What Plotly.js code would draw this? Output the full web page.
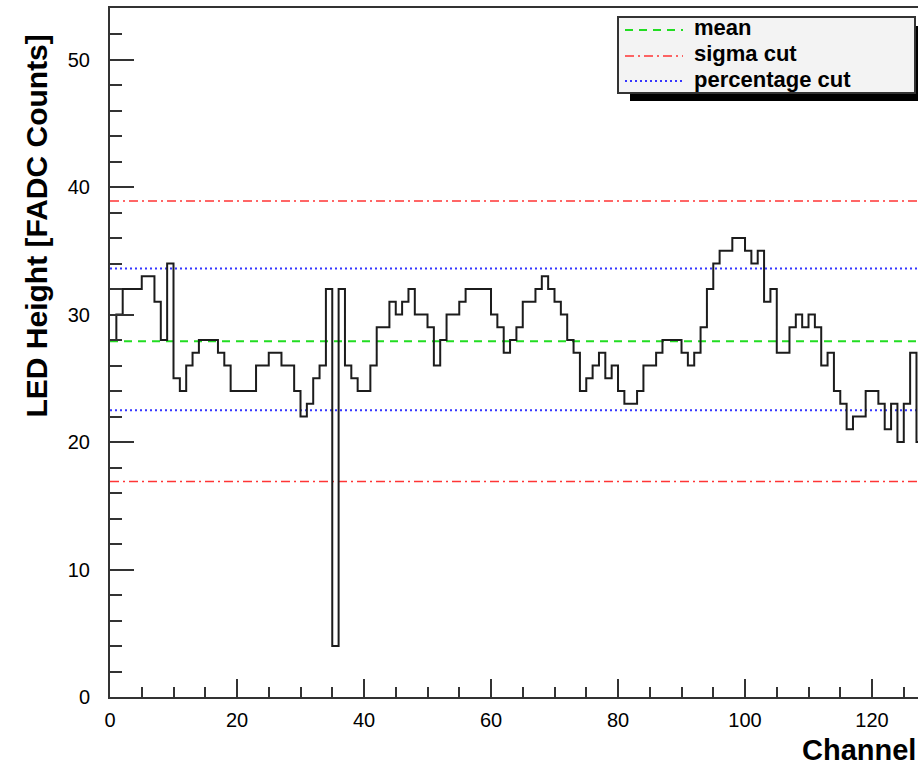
<!DOCTYPE html>
<html>
<head>
<meta charset="utf-8">
<script src="https://cdn.plot.ly/plotly-3.0.1.min.js"></script>
<style>
  html, body { margin: 0; padding: 0; background: #ffffff; }
  #chart { width: 918px; height: 765px; }
</style>
</head>
<body>
<div id="chart"></div>
<script>
// ---- data ----
const channelValues = [
  28, 30, 32, 32, 32, 33, 33, 31, 28, 34,
  25, 24, 26, 27, 28, 28, 28, 27, 26, 24,
  24, 24, 24, 26, 26, 27, 27, 26, 26, 24,
  22, 23, 25, 26, 32, 4, 32, 26, 25, 24,
  24, 26, 29, 29, 31, 30, 31, 32, 30, 30,
  29, 26, 28, 30, 30, 31, 32, 32, 32, 32,
  30, 29, 27, 28, 29, 31, 31, 32, 33, 32,
  31, 30, 28, 27, 24, 25, 26, 27, 25, 26,
  24, 23, 23, 24, 26, 26, 27, 28, 28, 28,
  27, 26, 27, 29, 32, 34, 35, 35, 36, 36,
  35, 34, 35, 31, 32, 27, 27, 29, 30, 29,
  30, 29, 26, 27, 24, 23, 21, 22, 22, 24,
  24, 23, 21, 23, 20, 23, 27, 20
];
const meanLevel = 27.9;
const sigmaCut = [16.9, 38.9];
const percentageCut = [22.5, 33.6];
const seriesNames = ["mean", "sigma cut", "percentage cut"];
const xTitle = "Channel";
const yTitle = "LED Height [FADC Counts]";
const xRange = [0, 127.24];
const yRange = [0, 54.04];

// ---- styles ----
const font = "Liberation Sans, Arial, Helvetica, sans-serif";
const seriesStyles = [
  { color: "#22dd22", width: 2, dash: "8px,6px" },
  { color: "#ff3535", width: 1.5, dash: "9px,4px,2px,4px" },
  { color: "#3535ff", width: 2, dash: "2px,3px" }
];

// ---- build traces ----
const histX = channelValues.map((v, i) => i).concat([channelValues.length]);
const histY = channelValues.concat([channelValues[channelValues.length - 1]]);
const xMax = channelValues.length;

const levelSets = [
  [meanLevel],
  [sigmaCut[1], sigmaCut[0]],
  [percentageCut[1], percentageCut[0]]
];

const traces = levelSets.map((levels, k) => {
  const x = [], y = [];
  levels.forEach((lv, j) => {
    if (j > 0) { x.push(null); y.push(null); }
    x.push(0, xMax); y.push(lv, lv);
  });
  return {
    type: "scatter", mode: "lines", name: seriesNames[k],
    x: x, y: y, line: seriesStyles[k], showlegend: false, hoverinfo: "skip"
  };
});
traces.push({
  type: "scatter", mode: "lines", name: "LED height",
  x: histX, y: histY,
  line: { color: "#1c1c1c", width: 2, shape: "hv" },
  showlegend: false
});

// ---- legend box (drawn by hand, ROOT style with shadow) ----
const px = v => (v - 110) / 808;   // pixel -> paper x
const py = v => (697 - v) / 689;   // pixel -> paper y
const legendRowsY = [30, 56, 81];
const legendShapes = [
  { type: "rect", xref: "paper", yref: "paper", layer: "above",
    x0: px(630), x1: 1.02, y0: py(101), y1: py(26),
    fillcolor: "#000000", line: { width: 0 } },
  { type: "rect", xref: "paper", yref: "paper", layer: "above",
    x0: px(618), x1: px(915), y0: py(93), y1: py(17),
    fillcolor: "#f3f3f3", line: { color: "#333333", width: 2 } }
];
seriesNames.forEach((n, k) => {
  legendShapes.push({
    type: "line", xref: "paper", yref: "paper", layer: "above",
    x0: px(625), x1: px(683), y0: py(legendRowsY[k]), y1: py(legendRowsY[k]),
    line: seriesStyles[k]
  });
});
const legendAnnotations = seriesNames.map((n, k) => ({
  text: "<b>" + n + "</b>", showarrow: false,
  xref: "paper", yref: "paper", x: px(692), y: py(legendRowsY[k] - 2),
  xanchor: "left", yanchor: "middle",
  font: { family: font, size: 22, color: "#000000" }
}));

const layout = {
  width: 918, height: 765,
  margin: { l: 110, r: 0, t: 8, b: 68 },
  paper_bgcolor: "#ffffff", plot_bgcolor: "#ffffff",
  font: { family: font, color: "#000000", size: 20 },
  showlegend: false,
  xaxis: {
    range: xRange, autorange: false,
    showgrid: false, zeroline: false,
    showline: true, linecolor: "#333333", linewidth: 2, mirror: true,
    ticks: "inside", ticklen: 18, tickwidth: 2, tickcolor: "#333333",
    dtick: 20, tick0: 0,
    minor: { ticks: "inside", ticklen: 10, tickwidth: 2, tickcolor: "#333333", dtick: 5 },
    tickfont: { family: font, size: 20, color: "#000000" },
    ticklabelstandoff: 4
  },
  yaxis: {
    range: yRange, autorange: false,
    showgrid: false, zeroline: false,
    showline: true, linecolor: "#333333", linewidth: 2, mirror: false,
    ticks: "inside", ticklen: 24, tickwidth: 2, tickcolor: "#333333",
    dtick: 10, tick0: 0,
    minor: { ticks: "inside", ticklen: 12, tickwidth: 2, tickcolor: "#333333", dtick: 2 },
    tickfont: { family: font, size: 20, color: "#000000" },
    ticklabelstandoff: 14
  },
  annotations: [
    {
      text: "<b>" + xTitle + "</b>", showarrow: false,
      xref: "paper", yref: "paper", x: 1, y: py(750),
      xanchor: "right", yanchor: "middle",
      font: { family: font, size: 29, color: "#000000" }
    },
    {
      text: "<b>" + yTitle + "</b>", showarrow: false, textangle: -90,
      xref: "paper", yref: "paper", x: 0, xshift: -74, y: py(33),
      xanchor: "center", yanchor: "top",
      font: { family: font, size: 30, color: "#000000" }
    }
  ].concat(legendAnnotations),
  shapes: legendShapes
};

Plotly.newPlot("chart", traces, layout, { displayModeBar: false, staticPlot: true });
</script>
</body>
</html>
